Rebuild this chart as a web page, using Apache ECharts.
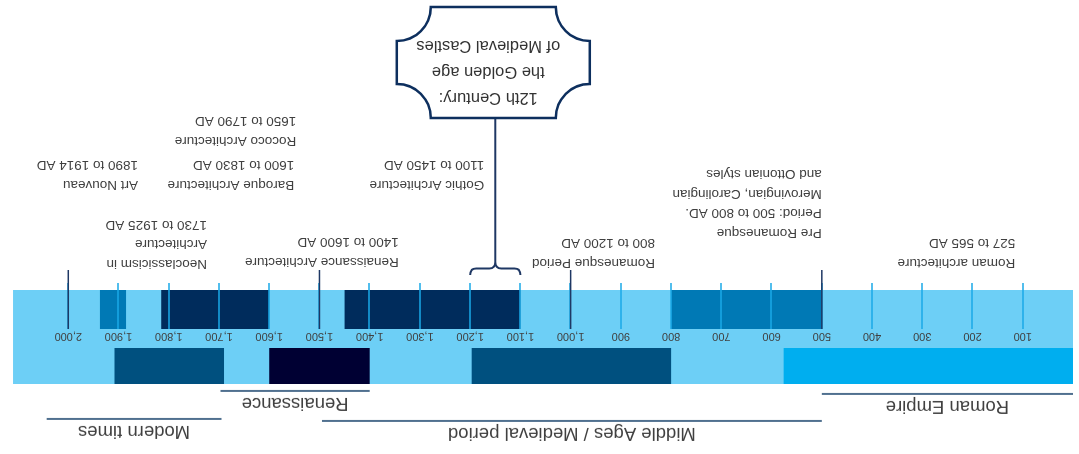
<!DOCTYPE html>
<html>
<head>
<meta charset="utf-8">
<title>Architecture timeline</title>
<script src="https://cdn.jsdelivr.net/npm/echarts@6/dist/echarts.min.js"></script>
<style>
  html, body { margin: 0; height: 100%; background: #fff; }
  /* the reference is shown upside down, so the whole chart is turned */
  #container { width: 1079px; height: 454px; transform: rotate(180deg); }
</style>
</head>
<body>
<div id="container"></div>
<script>
// ---- data ----
const tickYears = [100, 200, 300, 400, 500, 600, 700, 800, 900, 1000,
                   1100, 1200, 1300, 1400, 1500, 1600, 1700, 1800, 1900, 2000];
const bandSpan = [0, 2110];
const upperSpans = [[500, 800], [1100, 1450], [1600, 1815], [1885, 1937]];
const lowerSpans = [[0, 576], [800, 1197], [1400, 1600], [1690, 1908]];
const markerYears = [500, 1000, 1500, 2000];

const eraNames = ['Roman Empire', 'Middle Ages / Medieval period', 'Renaissance', 'Modern times'];
const eraSpans = [[0, 500], [500, 1495], [1400, 1697], [1695, 2043]];

const noteTexts = [
  'Roman architecture\n527 to 565 AD',
  'Pre Romanesque\nPeriod: 500 to 800 AD.\nMerovingian, Carolingian\nand Ottonian styles',
  'Romanesque Period\n800 to 1200 AD',
  'Gothic Architecture\n1100 to 1450 AD',
  'Renaissance Architecture\n1400 to 1600 AD',
  'Baroque Architecture\n1600 to 1830 AD',
  'Rococo Architecture\n1650 to 1790 AD',
  'Neoclassicism in\nArchitecture\n1730 to 1925 AD',
  'Art Nouveau\n1890 to 1914 AD'
];

const calloutText = '12th Century:\nthe Golden age\nof Medieval Castles';
const calloutSpan = [1100, 1200];

// ---- layout / styles ----
const FONT = '"Liberation Sans", Arial, sans-serif';
const TEXT = '#404040';
const NAVY = '#1f3864';
const upperColors = ['#0079b5', '#002c5c', '#002c5c', '#0079b5'];
const lowerColors = ['#00aeef', '#00507f', '#000033', '#00507f'];
// [anchor year for left edge, y of first line]
const noteLayout = [[115, 192], [500, 222], [832, 192], [1172, 270], [1342, 193],
                    [1550, 270], [1546, 314], [1724, 191], [1861, 270]];
const eraLineY = [60, 33, 63, 35];

function spanRect(y0, y1, colors) {
  return function (params, api) {
    const a = api.coord([api.value(0), 0])[0];
    const b = api.coord([api.value(1), 0])[0];
    return {
      type: 'rect',
      shape: { x: a, y: y0, width: b - a, height: y1 - y0 },
      style: { fill: colors[params.dataIndex] }
    };
  };
}

const chart = echarts.init(document.getElementById('container'));
chart.setOption({
  animation: false,
  grid: { left: 6, right: 8, top: 70, bottom: 283 },
  xAxis: {
    type: 'value', min: 0, max: 2120, z: 5,
    splitLine: { show: false },
    axisLine: { show: false },
    axisTick: {
      show: true, inside: true, length: 46, customValues: tickYears,
      lineStyle: { color: '#1aa9e8', width: 1.5 }
    },
    axisLabel: {
      inside: true, margin: 48, customValues: tickYears,
      color: TEXT, fontSize: 11, fontFamily: FONT,
      formatter: function (v) { return echarts.format.addCommas(v); }
    }
  },
  yAxis: { type: 'value', min: 0, max: 1, show: false },
  series: [
    {
      type: 'custom', silent: true, z: 1,
      data: [bandSpan], encode: { x: [0, 1] },
      renderItem: spanRect(70, 164, ['#6dcff6'])
    },
    {
      type: 'custom', silent: true, z: 2,
      data: upperSpans, encode: { x: [0, 1] },
      renderItem: spanRect(125, 164, upperColors)
    },
    {
      type: 'custom', silent: true, z: 2,
      data: lowerSpans, encode: { x: [0, 1] },
      renderItem: spanRect(70, 106, lowerColors)
    },
    {
      // marker lines at every 500 years
      type: 'custom', silent: true, z: 10,
      data: markerYears.map(function (y) { return [y, 0]; }),
      renderItem: function (params, api) {
        const x = api.coord([api.value(0), 0])[0];
        return {
          type: 'line',
          shape: { x1: x, y1: 125, x2: x, y2: 184 },
          style: { stroke: NAVY, lineWidth: 1.5 }
        };
      }
    },
    {
      // era brackets
      type: 'custom', silent: true, z: 10,
      data: eraSpans, encode: { x: [0, 1] },
      renderItem: function (params, api) {
        const a = api.coord([api.value(0), 0])[0];
        const b = api.coord([api.value(1), 0])[0];
        const y = eraLineY[params.dataIndex];
        return {
          type: 'group',
          children: [
            { type: 'line', shape: { x1: a, y1: y, x2: b, y2: y },
              style: { stroke: '#50708f', lineWidth: 2 } },
            { type: 'text', x: (a + b) / 2, y: y - 12.5,
              style: { text: eraNames[params.dataIndex], fill: TEXT, fontSize: 18.5,
                       fontFamily: FONT, align: 'center', verticalAlign: 'middle' } }
          ]
        };
      }
    },
    {
      // annotation texts
      type: 'custom', silent: true, z: 10,
      data: noteLayout.map(function (p) { return [p[0], 0]; }),
      renderItem: function (params, api) {
        const x = api.coord([api.value(0), 0])[0];
        const y = noteLayout[params.dataIndex][1];
        return {
          type: 'text', x: x, y: y - 10,
          style: { text: noteTexts[params.dataIndex], fill: TEXT, fontSize: 13.5,
                   fontFamily: FONT, lineHeight: 19.5, align: 'left', verticalAlign: 'top' }
        };
      }
    },
    {
      // callout with brace
      type: 'custom', silent: true, z: 10,
      data: [calloutSpan], encode: { x: [0, 1] },
      renderItem: function (params, api) {
        const xa = api.coord([api.value(0), 0])[0];
        const xb = api.coord([api.value(1), 0])[0];
        const xm = (xa + xb) / 2;
        const yt = 179, ym = 185.5, yb = 192;
        const brace = 'M' + xa + ' ' + yt + ' Q' + xa + ' ' + ym + ' ' + (xa + 6) + ' ' + ym +
          ' L' + (xm - 6) + ' ' + ym + ' Q' + xm + ' ' + ym + ' ' + xm + ' ' + yb +
          ' Q' + xm + ' ' + ym + ' ' + (xm + 6) + ' ' + ym +
          ' L' + (xb - 6) + ' ' + ym + ' Q' + xb + ' ' + ym + ' ' + xb + ' ' + yt;
        const cx = xm + 2, cy = 391.5, w = 193, h = 111, r = 34;
        const x0 = cx - w / 2, x1 = cx + w / 2, y0 = cy - h / 2, y1 = cy + h / 2;
        const box = 'M' + (x0 + r) + ' ' + y0 + ' L' + (x1 - r) + ' ' + y0 +
          ' A' + r + ' ' + r + ' 0 0 0 ' + x1 + ' ' + (y0 + r) +
          ' L' + x1 + ' ' + (y1 - r) +
          ' A' + r + ' ' + r + ' 0 0 0 ' + (x1 - r) + ' ' + y1 +
          ' L' + (x0 + r) + ' ' + y1 +
          ' A' + r + ' ' + r + ' 0 0 0 ' + x0 + ' ' + (y1 - r) +
          ' L' + x0 + ' ' + (y0 + r) +
          ' A' + r + ' ' + r + ' 0 0 0 ' + (x0 + r) + ' ' + y0 + ' Z';
        return {
          type: 'group',
          children: [
            { type: 'path', shape: { pathData: brace },
              style: { stroke: NAVY, lineWidth: 2, fill: null } },
            { type: 'line', shape: { x1: xm, y1: yb, x2: xm, y2: y0 },
              style: { stroke: NAVY, lineWidth: 2 } },
            { type: 'path', shape: { pathData: box },
              style: { stroke: '#0d2f5e', lineWidth: 2.5, fill: '#fff' } },
            { type: 'text', x: cx + 5, y: cy - 9,
              style: { text: calloutText, fill: '#333', fontSize: 16.5, fontFamily: FONT,
                       lineHeight: 26, align: 'center', verticalAlign: 'middle' } }
          ]
        };
      }
    }
  ]
});
</script>
</body>
</html>
